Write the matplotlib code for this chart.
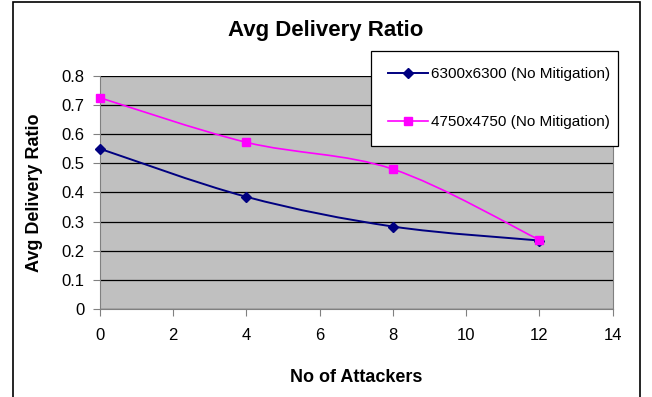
import matplotlib
matplotlib.use("Agg")
import matplotlib.pyplot as plt
import numpy as np
from matplotlib.path import Path
from matplotlib.patches import PathPatch, Rectangle
from matplotlib.lines import Line2D

plt.rcParams['font.family'] = ['Liberation Sans', 'DejaVu Sans']

attackers = [0, 4, 8, 12]
ratio_6300 = [0.55, 0.385, 0.283, 0.235]
ratio_4750 = [0.725, 0.572, 0.48, 0.237]
label_6300 = "6300x6300 (No Mitigation)"
label_4750 = "4750x4750 (No Mitigation)"
x_ticks = [0, 2, 4, 6, 8, 10, 12, 14]
y_ticks = [0, 0.1, 0.2, 0.3, 0.4, 0.5, 0.6, 0.7, 0.8]


def smooth_path(xs, ys):
    # spreadsheet-style smoothed line: cubic bezier through every point
    pts = np.column_stack([xs, ys]).astype(float)
    n = len(pts)
    verts = [pts[0]]
    codes = [Path.MOVETO]
    for i in range(n - 1):
        p0 = pts[i - 1] if i > 0 else pts[i]
        p1 = pts[i]
        p2 = pts[i + 1]
        p3 = pts[i + 2] if i + 2 < n else pts[i + 1]
        c1 = p1 + (p2 - p0) / 6.0
        c2 = p2 - (p3 - p1) / 6.0
        verts += [c1, c2, p2]
        codes += [Path.CURVE4] * 3
    return Path(verts, codes)


fig = plt.figure(figsize=(6.52, 3.97), dpi=100)
ax = fig.add_axes([0.1534, 0.2217, 0.7863, 0.587])
ax.set_facecolor("#C0C0C0")

series = [
    (ratio_6300, "#000080", "D", 5.5, 1.4, label_6300),
    (ratio_4750, "#FF00FF", "s", 5.5, 1.2, label_4750),
]
handles = []
for ys, color, marker, ms, lw, label in series:
    ax.add_patch(PathPatch(smooth_path(attackers, ys), facecolor="none",
                           edgecolor=color, lw=lw, zorder=3))
    ax.plot(attackers, ys, linestyle="none", marker=marker, markersize=ms,
            color=color, zorder=4, clip_on=False)
    handles.append(Line2D([], [], color=color, lw=lw, marker=marker,
                          markersize=ms, label=label))

ax.set_xlim(0, 14)
ax.set_ylim(0, 0.8)
ax.set_xticks(x_ticks)
ax.set_yticks(y_ticks)
ax.set_yticklabels(["0" if v == 0 else f"{v:.1f}" for v in y_ticks])
ax.yaxis.grid(True, color="black", lw=0.9)
ax.set_axisbelow(True)
for side in ["left", "bottom", "right"]:
    ax.spines[side].set_color("#808080")
ax.spines["top"].set_visible(False)
ax.tick_params(axis="both", labelsize=12, color="#808080", length=5,
               direction="out")
ax.tick_params(axis="y", pad=6)
ax.tick_params(axis="x", pad=9)

ax.set_xlabel("No of Attackers", fontsize=13, fontweight="bold")
ax.set_ylabel("Avg Delivery Ratio", fontsize=13, fontweight="bold")
ax.xaxis.set_label_coords(0.5, -0.258)
ax.yaxis.set_label_coords(-0.111, 0.5)
fig.text(0.5, 0.922, "Avg Delivery Ratio", ha="center", va="center",
         fontsize=16, fontweight="bold")

leg = fig.legend(handles=handles, loc="upper left",
                 bbox_to_anchor=(0.569, 0.5, 0.379, 0.3725), mode="expand",
                 fontsize=11, frameon=True, fancybox=False, edgecolor="black",
                 framealpha=1, handlelength=2.6, labelspacing=2.2,
                 borderpad=1.1, handletextpad=0.2, borderaxespad=0)
leg.get_frame().set_linewidth(0.9)

# outer chart frame, open past the bottom edge
fig.patches.append(Rectangle((0.0195, -0.1), 0.9621, 1.095, transform=fig.transFigure,
                             fill=False, edgecolor="black", lw=1.2))

fig.savefig("out.png", dpi=100)
